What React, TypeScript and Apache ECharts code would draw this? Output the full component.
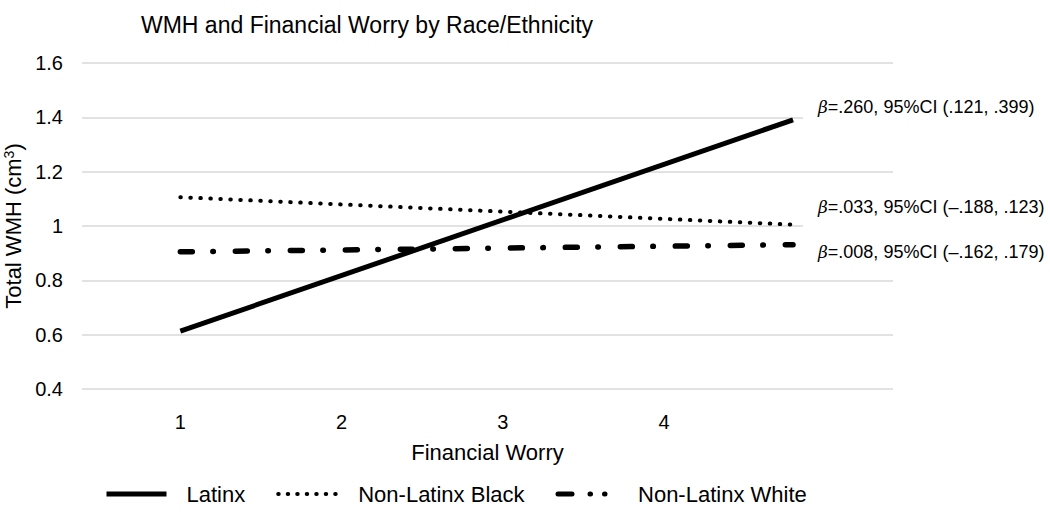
import React, { useEffect, useRef } from "react";
import * as echarts from "echarts";

const titleText = "WMH and Financial Worry by Race/Ethnicity";
const xTicks = [1, 2, 3, 4];
const xValues = [1, 4.8];
const seriesNames = ["Latinx", "Non-Latinx Black", "Non-Latinx White"];
const latinx = [0.613, 1.391];
const nlBlack = [1.106, 1.005];
const nlWhite = [0.905, 0.931];
const annotations = [
  { beta: ".260", ci: "95%CI (.121, .399)" },
  { beta: ".033", ci: "95%CI (\u2013.188, .123)" },
  { beta: ".008", ci: "95%CI (\u2013.162, .179)" },
];

const FONT = "'Liberation Sans', Arial, sans-serif";

export default function App() {
  const ref = useRef<HTMLDivElement>(null);
  useEffect(() => {
    if (!ref.current) return;
    const chart = echarts.init(ref.current, null, { renderer: "svg" });
    const mk = (ys: number[]) => xValues.map((x, i) => [x, ys[i]]);
    const annY = [107, 207, 252];
    const styles = [
      { color: "#000", width: 5, cap: "butt" },
      { color: "#000", width: 4, type: [0.5, 9.5], cap: "round" },
      { color: "#000", width: 5.5, type: [12, 20.5, 0.5, 22], cap: "round" },
    ];
    chart.setOption({
      animation: false,
      backgroundColor: "#ffffff",
      textStyle: { fontFamily: FONT, color: "#000" },
      title: {
        text: titleText,
        left: 136,
        top: 8,
        textStyle: { fontFamily: FONT, fontSize: 23, fontWeight: "normal", color: "#000" },
      },
      grid: {
        left: 82,
        right: 157,
        top: 63,
        bottom: 126,
        containLabel: false,
        outerBoundsMode: "none",
      },
      legend: {
        bottom: 5,
        left: 99,
        itemWidth: 60,
        itemHeight: 14,
        itemGap: 31,
        itemStyle: { opacity: 0 },
        textStyle: { fontFamily: FONT, fontSize: 22, color: "#000", padding: [0, 0, 0, 15] },
        data: seriesNames.map((n, i) => ({
          name: n,
          lineStyle: {
            color: "#000",
            width: i === 1 ? 4 : 5,
            type: i === 0 ? "solid" : i === 1 ? [0.5, 9] : [14, 18, 0.5, 14, 0.5, 20],
            cap: i === 0 ? "butt" : "round",
          },
        })),
      },
      xAxis: {
        type: "value",
        min: 0.39,
        max: 5.42,
        name: "Financial Worry",
        nameLocation: "middle",
        nameGap: 52,
        nameTextStyle: { fontFamily: FONT, fontSize: 22, color: "#000" },
        axisLine: { show: false },
        axisTick: { show: false },
        splitLine: { show: false },
        axisLabel: {
          customValues: xTicks,
          margin: 23,
          fontFamily: FONT,
          fontSize: 20,
          color: "#000",
        },
      },
      yAxis: {
        type: "value",
        min: 0.4,
        max: 1.6,
        interval: 0.2,
        name: "Total WMH (cm{sup|3})",
        nameLocation: "middle",
        nameGap: 51,
        nameTextStyle: {
          fontFamily: FONT,
          fontSize: 22,
          color: "#000",
          rich: {
            sup: { fontFamily: FONT, fontSize: 14, color: "#000", verticalAlign: "top", padding: [0, 0, 8, 0] },
          },
        },
        axisLine: { show: false },
        axisTick: { show: false },
        splitLine: { lineStyle: { color: "#d9d9d9", width: 1.5 } },
        axisLabel: {
          margin: 19,
          fontFamily: FONT,
          fontSize: 20,
          color: "#000",
          formatter: (v: number) => String(+v.toFixed(1)),
        },
      },
      series: [
        {
          name: seriesNames[0],
          type: "line",
          data: mk(latinx),
          symbol: "none",
          lineStyle: styles[0],
          itemStyle: { color: "#000" },
        },
        {
          name: seriesNames[1],
          type: "line",
          data: mk(nlBlack),
          symbol: "none",
          lineStyle: styles[1],
          itemStyle: { color: "#000" },
        },
        {
          name: seriesNames[2],
          type: "line",
          data: mk(nlWhite),
          symbol: "none",
          lineStyle: styles[2],
          itemStyle: { color: "#000" },
        },
      ],
      graphic: [
        { type: "rect", shape: { x: 803, y: 110, width: 240, height: 16 }, style: { fill: "#fff" }, z: 10 },
        { type: "rect", shape: { x: 803, y: 218, width: 240, height: 16 }, style: { fill: "#fff" }, z: 10 },
        ...annotations.map((a, i) => ({
          type: "text",
          x: 818,
          y: annY[i],
          z: 11,
          style: {
            text: `{b|\u03B2}=${a.beta}, ${a.ci}`,
            verticalAlign: "middle",
            fontFamily: FONT,
            fontSize: 18,
            fill: "#000",
            rich: {
              b: { fontFamily: "'DejaVu Serif', serif", fontStyle: "italic", fontSize: 17, fill: "#000" },
            },
          },
        })),
      ],
    });
    return () => chart.dispose();
  }, []);
  return <div ref={ref} style={{ width: 1050, height: 515, position: "absolute", left: 0, top: 0 }} />;
}
